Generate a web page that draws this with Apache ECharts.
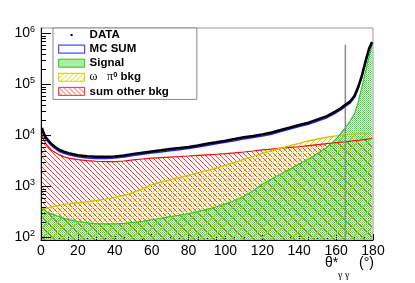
<!DOCTYPE html>
<html><head><meta charset="utf-8">
<script src="https://cdn.jsdelivr.net/npm/echarts@6/dist/echarts.min.js"></script>
<style>html,body{margin:0;padding:0;background:#fff}#c{width:415px;height:283px}</style>
</head><body><div id="c"></div>
<script>
// ---- data ----
const theta = [0.5,1.5,2.5,4,5.5,7.5,10,12.5,15,20,25,30,35,40,45,50,55,60,65,70,75,80,85,90,95,100,105,110,115,120,125,130,135,140,145,150,155,160,162.5,165,167.5,170,172,174,176,178,179.5];
const dataVals = [14000,11000,9300,7900,6900,6000,5200,4800,4500,4100,3900,3800,3800,3870,4050,4350,4600,4850,5100,5400,5650,5950,6350,6850,7350,7900,8500,9200,9750,10500,11400,12800,14300,16000,17800,20600,24000,30000,34000,40000,46000,60000,90000,150000,290000,520000,680000];
const mcSum = [13000,10200,8650,7350,6420,5580,4840,4460,4190,3810,3630,3530,3530,3600,3770,4050,4280,4510,4740,5020,5250,5530,5910,6370,6840,7350,7900,8560,9070,9770,10600,11900,13300,14900,16600,19200,22300,27900,31600,37200,42800,55800,83700,139500,270000,484000,632000];
const signal = [360,340,325,305,290,272,256,238,224,205,193,187,184,184,188,197,207,222,238,255,272,292,320,355,400,455,530,640,820,1100,1400,1750,2200,2750,3450,4400,5800,8500,11000,14000,19000,27000,45000,90000,180000,370000,590000];
const omegaPi0 = [360,365,370,380,395,410,430,445,460,480,500,530,565,610,670,760,900,1070,1220,1360,1500,1650,1850,2050,2300,2600,2950,3400,3900,4450,5000,5600,6300,7000,7800,8500,9200,9800,10000,10300,10500,10700,10800,10900,11000,11100,11200];
const otherBkg = [10500,8200,7000,6000,5200,4700,4150,3800,3600,3350,3220,3120,3060,3060,3150,3330,3450,3580,3680,3770,3860,3950,4060,4170,4280,4400,4550,4730,4950,5200,5400,5650,5850,6000,6300,6600,6900,7200,7350,7500,7700,7900,8050,8200,8400,8600,8800];
const yDecades = [100,1000,10000,100000,1000000];
const cutTheta = 165;
const cutTop = 600000;
const yMin = 89, yMax = 1.28e6;

// ---- fill patterns ----
function pattern(w, h, draw) {
  const c = document.createElement('canvas'); c.width = w; c.height = h;
  draw(c.getContext('2d')); return { image: c, repeat: 'repeat' };
}
const greenPat = pattern(2, 2, g => {
  g.fillStyle = '#2fdc2f'; g.fillRect(0,0,1,1);
  g.fillStyle = '#6ae86a'; g.fillRect(1,1,1,1);
});
const yellowPat = pattern(5, 5, g => {
  g.fillStyle = '#e2d400';
  for (let i = 0; i < 5; i++) g.fillRect(4 - i, i, 1, 1);
});
const redPat = pattern(5, 5, g => {
  g.fillStyle = '#ff3a3a';
  for (let i = 0; i < 5; i++) g.fillRect(i, i, 1, 1);
});

const pairs = arr => theta.map((t, i) => [t, arr[i]]);
const tickVals = [];
yDecades.forEach(d => {
  tickVals.push([0, d, 1]);
  if (d < 1e6) for (let k = 2; k <= 9; k++) tickVals.push([0, d * k, 0]);
});

const FONT = 'Liberation Sans';
const areaSeries = (arr, pat, z) => ({ type: 'line', data: pairs(arr), showSymbol: false, z: z, silent: true,
  lineStyle: { width: 0, opacity: 0 }, areaStyle: { color: pat, origin: 'start', opacity: 1 } });
const lineSeries = (arr, col, w, z) => ({ type: 'line', data: pairs(arr), showSymbol: false, z: z, silent: true,
  lineStyle: { color: col, width: w } });

const chart = echarts.init(document.getElementById('c'), null, { renderer: 'canvas' });
chart.setOption({
  animation: false,
  backgroundColor: '#fff',
  grid: { left: 41, right: 42, top: 28, bottom: 43, show: true, borderColor: '#999', borderWidth: 1, backgroundColor: 'transparent' },
  xAxis: {
    type: 'value', min: 0, max: 180, interval: 20,
    axisLine: { lineStyle: { color: '#000', width: 1 } },
    axisTick: { inside: true, length: 6, lineStyle: { color: '#000' } },
    minorTick: { show: true, splitNumber: 4, length: 3, lineStyle: { color: '#000' } },
    splitLine: { show: false },
    axisLabel: { fontFamily: FONT, fontSize: 14, color: '#000', margin: 4 }
  },
  yAxis: {
    type: 'log', min: yMin, max: yMax,
    axisLine: { show: true, lineStyle: { color: '#000', width: 1 } },
    axisTick: { show: false },
    splitLine: { show: false },
    axisLabel: {
      margin: 6, color: '#000', fontFamily: FONT, fontSize: 14,
      formatter: function (v) {
        const l = Math.log10(v), e = Math.round(l);
        if (Math.abs(l - e) > 1e-6) return '';
        return '{b|10}{s|' + e + '}';
      },
      rich: {
        b: { fontFamily: FONT, fontSize: 14, lineHeight: 16, color: '#000' },
        s: { fontFamily: FONT, fontSize: 9, lineHeight: 10, verticalAlign: 'top', color: '#000' }
      }
    }
  },
  legend: {
    left: 53, top: 28, orient: 'vertical',
    padding: [1, 28, 2, 5], itemGap: 2.1, itemWidth: 26, itemHeight: 8,
    backgroundColor: '#fff', borderColor: '#888', borderWidth: 1, borderRadius: 0,
    selectedMode: false,
    formatter: function (n) { return n === 'omegaPi0' ? '{g|ω}   {g|π}{s|0} bkg' : n; },
    textStyle: {
      fontFamily: FONT, fontWeight: 'bold', fontSize: 11.5, color: '#000', lineHeight: 12,
      rich: {
        g: { fontFamily: 'Liberation Serif', fontWeight: 'normal', fontSize: 12, lineHeight: 12, color: '#000' },
        s: { fontFamily: FONT, fontWeight: 'bold', fontSize: 7.5, lineHeight: 8, verticalAlign: 'top', color: '#000' }
      }
    },
    data: [
      { name: 'DATA', icon: 'path://M0,0L0,0M26,8L26,8M12,3L14,3L14,5L12,5Z', itemStyle: { color: '#000', borderWidth: 0 } },
      { name: 'MC SUM', icon: 'rect', itemStyle: { color: '#fff', borderColor: '#4a4aff', borderWidth: 1.2 } },
      { name: 'Signal', icon: 'rect', itemStyle: { color: greenPat, borderColor: '#22cc22', borderWidth: 1 } },
      { name: 'omegaPi0', icon: 'rect', itemStyle: { color: yellowPat, borderColor: '#d8cc00', borderWidth: 1 } },
      { name: 'sum other bkg', icon: 'rect', itemStyle: { color: redPat, borderColor: '#ff3030', borderWidth: 1 } }
    ]
  },
  graphic: [
    { type: 'text', left: 325, top: 256, style: { text: 'θ*', font: '14px "Liberation Sans"', fill: '#000' } },
    { type: 'text', left: 338, top: 270, style: { text: 'γ γ', font: '10px "Liberation Serif"', fill: '#000' } },
    { type: 'text', left: 359, top: 256, style: { text: '(°)', font: '14px "Liberation Sans"', fill: '#000' } }
  ],
  series: [
    areaSeries(otherBkg, redPat, 1),
    areaSeries(omegaPi0, yellowPat, 2),
    areaSeries(signal, greenPat, 3),
    lineSeries(otherBkg, '#ff0000', 1.2, 4),
    lineSeries(omegaPi0, '#d0c400', 1.4, 4),
    lineSeries(signal, '#22cc22', 1.2, 4),
    { type: 'line', data: [[cutTheta, yMin], [cutTheta, cutTop]], showSymbol: false, z: 5, silent: true,
      lineStyle: { color: '#8c8c8c', width: 1.5 } },
    lineSeries(mcSum, '#2020ff', 1.5, 6),
    lineSeries(dataVals, '#000', 2.5, 7),
    { type: 'custom', data: tickVals, z: 8, silent: true, encode: { x: 0, y: 1 },
      renderItem: function (params, api) {
        const p = api.coord([api.value(0), api.value(1)]);
        const len = api.value(2) ? 10 : 5;
        const y = Math.round(p[1]) + 0.5;
        return { type: 'line', shape: { x1: p[0], y1: y, x2: p[0] + len, y2: y }, style: { stroke: '#000', lineWidth: 1 } };
      } },
    { name: 'DATA', type: 'bar', data: [], itemStyle: { color: '#000' } },
    { name: 'MC SUM', type: 'bar', data: [], itemStyle: { color: '#fff', borderColor: '#4a4aff', borderWidth: 1.2 } },
    { name: 'Signal', type: 'bar', data: [], itemStyle: { color: greenPat, borderColor: '#22cc22', borderWidth: 1 } },
    { name: 'omegaPi0', type: 'bar', data: [], itemStyle: { color: yellowPat, borderColor: '#d8cc00', borderWidth: 1 } },
    { name: 'sum other bkg', type: 'bar', data: [], itemStyle: { color: redPat, borderColor: '#ff3030', borderWidth: 1 } }
  ]
});
</script>
</body></html>
